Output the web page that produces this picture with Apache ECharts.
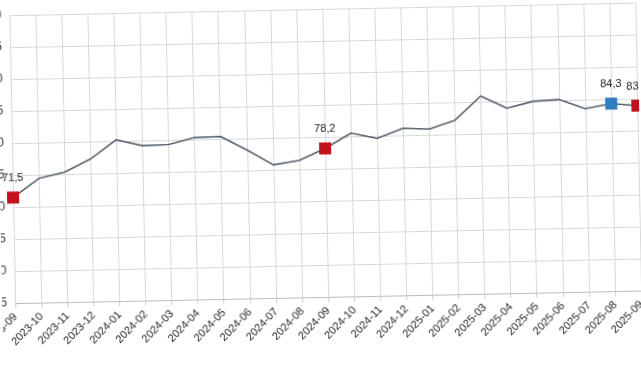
<!DOCTYPE html>
<html>
<head>
<meta charset="utf-8">
<script src="https://cdn.jsdelivr.net/npm/echarts@6/dist/echarts.min.js"></script>
<style>
html,body{margin:0;padding:0;background:#fff;overflow:hidden;width:641px;height:380px;}
#c{width:641px;height:380px;transform:rotate(-1.15deg);transform-origin:50% 50%;}
</style>
</head>
<body>
<div id="c"></div>
<script>
var months = ['2023-09','2023-10','2023-11','2023-12','2024-01','2024-02','2024-03','2024-04','2024-05','2024-06','2024-07','2024-08','2024-09','2024-10','2024-11','2024-12','2025-01','2025-02','2025-03','2025-04','2025-05','2025-06','2025-07','2025-08','2025-09'];
var values = [71.5,74.4,75.3,77.3,80.2,79.2,79.3,80.3,80.4,78.2,75.8,76.4,78.2,80.5,79.6,81.1,80.9,82.2,85.9,83.9,84.9,85.1,83.6,84.3,83.9];
var redMonths = ['2023-09','2024-09','2025-09'];
var blueMonths = ['2025-08'];
var yMin = 55, yMax = 100, yStep = 5;

var data = values.map(function(v,i){
  var m = months[i];
  var item = {value: v};
  var col = redMonths.indexOf(m) >= 0 ? '#c1121c' : (blueMonths.indexOf(m) >= 0 ? '#2f7cc0' : null);
  if (col) {
    item.symbol = 'rect';
    item.symbolSize = 12;
    item.itemStyle = {color: col, opacity: 1};
    item.label = {show: true};
  }
  return item;
});

var chart = echarts.init(document.getElementById('c'));
chart.setOption({
  animation: false,
  backgroundColor: '#fff',
  grid: {left: 13, right: 2, top: 9, bottom: 83, containLabel: false, outerBoundsMode: 'none'},
  xAxis: {
    type: 'category',
    data: months,
    boundaryGap: false,
    axisLine: {lineStyle: {color: '#bbb'}},
    axisTick: {show: true, alignWithLabel: true, length: 5, lineStyle: {color: '#ccc'}},
    splitLine: {show: true, lineStyle: {color: '#d9d9d9'}},
    axisLabel: {rotate: 45, fontSize: 11, color: '#222', margin: 12, interval: 0, fontFamily: 'Liberation Sans'}
  },
  yAxis: {
    type: 'value',
    min: yMin, max: yMax, interval: yStep,
    axisLine: {show: false},
    axisTick: {show: false},
    splitLine: {lineStyle: {color: '#d9d9d9'}},
    axisLabel: {fontSize: 12, color: '#333', margin: 8, fontFamily: 'Liberation Sans'}
  },
  series: [{
    type: 'line',
    data: data,
    symbol: 'none',
    showSymbol: true,
    lineStyle: {color: '#56626e', width: 1.6},
    itemStyle: {color: '#56626e'},
    label: {
      show: false, position: 'top', distance: 8,
      fontSize: 11, color: '#222', fontFamily: 'Liberation Sans',
      formatter: function(p){ return p.value.toFixed(1).replace('.', ','); }
    }
  }]
});
</script>
</body>
</html>
